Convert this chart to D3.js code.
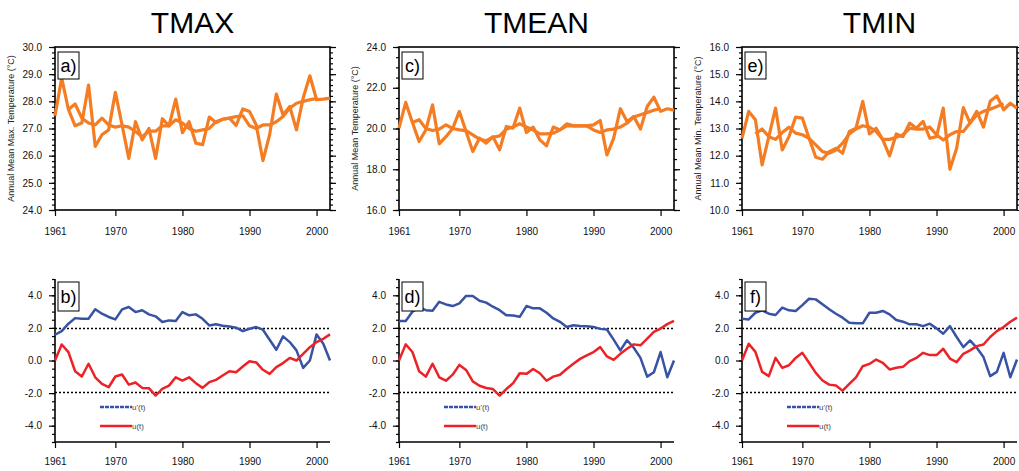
<!DOCTYPE html>
<html><head><meta charset="utf-8">
<script src="https://cdn.jsdelivr.net/npm/d3@7"></script>
<style>
body{margin:0;background:#fff}
text{font-family:"Liberation Sans",Arial,Helvetica,sans-serif}
</style>
</head><body>
<svg id="chart" width="1019" height="471"></svg>
<script>
// ---------------- DATA ----------------
const years = [1961,1962,1963,1964,1965,1966,1967,1968,1969,1970,1971,1972,1973,1974,1975,1976,1977,1978,1979,1980,
  1981,1982,1983,1984,1985,1986,1987,1988,1989,1990,1991,1992,1993,1994,1995,1996,1997,1998,1999,2000,2001,2002];
const smoothYears = [1963,1964,1965,1966,1967,1968,1969,1970,1971,1972,1973,1974,1975,1976,1977,1978,1979,1980,
  1981,1982,1983,1984,1985,1986,1987,1988,1989,1990,1991,1992,1993,1994,1995,1996,1997,1998,1999,2000];
const yearTicks = [1961,1970,1980,1990,2000];
const titles = ["TMAX","TMEAN","TMIN"];
const yTitles = ["Annual Mean Max. Temperature (\u00B0C)","Annual Mean Temperature (\u00B0C)","Annual Mean Min. Temperature (\u00B0C)"];
const topLetters = ["a)","c)","e)"];
const botLetters = ["b)","d)","f)"];
const legendLabels = ["u'(t)","u(t)"];

const tmaxRaw = [27.47,28.86,27.7,27.1,27.2,28.6,26.34,26.77,26.95,28.33,27.13,25.9,27.25,26.58,27.0,25.9,27.36,27.1,28.08,26.85,
  27.25,26.46,26.4,27.42,27.22,27.34,27.38,27.11,27.72,27.63,27.13,25.82,26.77,28.27,27.5,27.81,26.95,28.12,28.94,28.06,28.08,28.12];
const tmaxSmooth = [27.7,27.9,27.38,27.2,27.13,27.38,27.13,27.05,27.1,27.05,26.89,26.7,26.9,26.9,27.1,27.1,27.32,27.2,27.0,26.9,
  26.95,27.0,27.25,27.34,27.38,27.44,27.47,27.1,27.0,27.13,27.13,27.25,27.44,27.75,27.93,28.0,28.06,28.1];
const tmeanRaw = [20.02,21.28,20.3,19.36,19.93,21.16,19.25,19.6,20.0,20.84,19.85,18.87,19.52,19.28,19.6,18.95,20.1,20.02,21.0,19.8,
  20.07,19.44,19.15,20.07,19.93,20.23,20.13,20.13,20.13,20.18,20.39,18.7,19.52,20.97,20.34,20.59,19.97,21.08,21.54,20.84,20.97,20.9];
const tmeanSmooth = [20.3,20.43,20.0,19.9,19.97,20.18,20.0,19.93,19.9,19.69,19.48,19.4,19.57,19.64,19.97,20.07,20.23,20.07,19.93,19.74,
  19.74,19.77,19.93,20.13,20.13,20.13,20.13,19.93,19.8,19.93,19.97,20.07,20.26,20.56,20.67,20.79,20.9,20.97];
const tminRaw = [12.64,13.63,13.32,11.66,12.7,13.75,12.21,12.7,13.42,13.38,12.64,11.94,11.87,12.15,12.27,12.09,12.89,13.01,14.0,12.8,
  13.01,12.58,11.99,12.8,12.7,13.2,13.01,13.26,12.64,12.7,13.75,11.5,12.27,13.77,13.2,13.63,13.05,14.0,14.2,13.69,13.93,13.75];
const tminSmooth = [12.8,12.98,12.7,12.6,12.85,13.05,12.83,12.77,12.64,12.4,12.15,12.09,12.21,12.46,12.8,12.98,13.1,13.05,12.89,12.6,
  12.6,12.68,12.77,13.01,12.98,12.98,13.05,12.77,12.58,12.77,12.89,12.89,13.2,13.5,13.63,13.71,13.81,13.91];

const tmaxUb = [1.58,1.8,2.26,2.6,2.56,2.56,3.14,2.87,2.67,2.52,3.14,3.28,2.97,3.08,2.83,2.71,2.36,2.46,2.42,2.97,
  2.77,2.83,2.56,2.15,2.22,2.13,2.09,2.01,1.8,1.95,2.05,1.89,1.27,0.66,1.48,1.13,0.62,-0.45,0.0,1.6,1.03,0.0];
const tmaxUf = [0,0.98,0.51,-0.66,-0.98,-0.2,-1.03,-1.44,-1.64,-0.98,-0.86,-1.48,-1.35,-1.68,-1.7,-2.15,-1.74,-1.54,-1.03,-1.23,
  -1.03,-1.39,-1.68,-1.33,-1.19,-0.92,-0.66,-0.72,-0.37,-0.04,-0.12,-0.57,-0.82,-0.41,-0.16,0.16,0.0,0.41,0.82,1.13,1.33,1.6];
const tmeanUb = [2.43,2.43,2.99,3.26,3.09,3.05,3.6,3.44,3.34,3.5,3.96,3.96,3.67,3.55,3.3,3.09,2.78,2.76,2.68,3.34,
  3.2,3.2,2.93,2.58,2.37,2.06,2.16,2.12,2.1,2.06,1.94,1.9,1.28,0.62,1.24,0.78,0.16,-0.99,-0.72,0.52,-1.03,0.0];
const tmeanUf = [0,0.99,0.52,-0.66,-0.99,-0.2,-1.03,-1.24,-0.87,-0.27,-0.58,-1.28,-1.55,-1.69,-1.75,-2.16,-1.75,-1.4,-0.78,-0.82,
  -0.52,-0.78,-1.24,-0.99,-0.87,-0.52,-0.2,0.1,0.31,0.52,0.82,0.25,0.04,0.41,0.72,0.99,0.93,1.34,1.75,1.96,2.23,2.43];
const tminUb = [2.56,2.52,2.93,3.08,2.87,2.79,3.24,3.08,3.04,3.4,3.79,3.75,3.45,3.14,2.87,2.63,2.32,2.28,2.28,2.93,
  2.93,3.04,2.83,2.48,2.38,2.22,2.22,2.11,2.26,1.97,1.64,2.11,1.44,0.82,1.23,0.78,0.21,-0.96,-0.7,0.47,-1.03,0.06];
const tminUf = [0,1.03,0.53,-0.7,-0.96,0.16,-0.45,-0.29,0.16,0.47,-0.14,-0.76,-1.23,-1.48,-1.54,-1.85,-1.44,-1.03,-0.35,-0.21,
  0.06,-0.14,-0.55,-0.45,-0.39,-0.04,0.16,0.47,0.33,0.33,0.72,0.12,-0.1,0.41,0.62,0.88,0.98,1.44,1.8,2.05,2.38,2.63];

const topDomains = [[24,30],[16,24],[10,16]];
const topMajor = [[24,25,26,27,28,29,30],[16,18,20,22,24],[10,11,12,13,14,15,16]];
const topMinorStep = [0.2,0.5,0.2];
const botMajor = [-4,-2,0,2,4];
const critical = [1.96,-1.96];

const rawSeries = [tmaxRaw,tmeanRaw,tminRaw];
const smoothSeries = [tmaxSmooth,tmeanSmooth,tminSmooth];
const ubSeries = [tmaxUb,tmeanUb,tminUb];
const ufSeries = [tmaxUf,tmeanUf,tminUf];

// ---------------- LAYOUT ----------------
const svg = d3.select("#chart");
const lefts = [55,399,742];
const PW = 275;
const topY = [47,210], botY = [279,442];
const ORANGE = "#F47D23", BLUE = "#3852A4", RED = "#EC2227";
const fmt = d => d.toFixed(1);

function styleAxis(g){
  g.select(".domain").remove();
  g.selectAll("line").attr("stroke","#000").attr("stroke-width",1.2);
  g.selectAll("text").attr("fill","#111").style("font-size","10px");
}

for (let i = 0; i < 3; i++) {
  const L = lefts[i], R = L + PW;
  const x = d3.scaleLinear().domain([1961,2002]).range([L,R]);

  // title
  svg.append("text").attr("x",(L+R)/2).attr("y",33).attr("text-anchor","middle")
    .style("font-size","30px").attr("fill","#000").text(titles[i]);

  // ---------- top panel ----------
  const yt = d3.scaleLinear().domain(topDomains[i]).range([topY[1],topY[0]]);
  const minorT = d3.range(topDomains[i][0], topDomains[i][1]+1e-9, topMinorStep[i]);
  const gl = svg.append("g").attr("transform",`translate(${L},0)`);
  gl.call(d3.axisLeft(yt).tickValues(minorT).tickSize(3).tickFormat("")); styleAxis(gl);
  const gl2 = svg.append("g").attr("transform",`translate(${L},0)`);
  gl2.call(d3.axisLeft(yt).tickValues(topMajor[i]).tickSize(6).tickPadding(7).tickFormat(fmt)); styleAxis(gl2);
  const gr = svg.append("g").attr("transform",`translate(${R},0)`);
  gr.call(d3.axisRight(yt).tickValues(minorT).tickSize(3).tickFormat("")); styleAxis(gr);
  const gr2 = svg.append("g").attr("transform",`translate(${R},0)`);
  gr2.call(d3.axisRight(yt).tickValues(topMajor[i]).tickSize(6).tickFormat("")); styleAxis(gr2);
  const gb = svg.append("g").attr("transform",`translate(0,${topY[1]})`);
  gb.call(d3.axisBottom(x).tickValues(yearTicks).tickSize(6).tickPadding(12).tickFormat(d3.format("d"))); styleAxis(gb);

  svg.append("rect").attr("x",L).attr("y",topY[0]).attr("width",PW).attr("height",topY[1]-topY[0])
    .attr("fill","none").attr("stroke","#000").attr("stroke-width",1.6);

  svg.append("text").attr("transform",`translate(${L-41},${(topY[0]+topY[1])/2}) rotate(-90)`)
    .attr("text-anchor","middle").style("font-size","9px").attr("fill","#222").text(yTitles[i]);

  const line = d3.line().x(d=>x(d[0])).y(d=>yt(d[1]));
  svg.append("path").datum(years.map((yr,k)=>[yr,rawSeries[i][k]])).attr("d",line)
    .attr("fill","none").attr("stroke",ORANGE).attr("stroke-width",3.2).attr("stroke-linejoin","round");
  svg.append("path").datum(smoothYears.map((yr,k)=>[yr,smoothSeries[i][k]])).attr("d",line)
    .attr("fill","none").attr("stroke",ORANGE).attr("stroke-width",3.2).attr("stroke-linejoin","round");

  svg.append("rect").attr("x",L+3).attr("y",52).attr("width",21).attr("height",27)
    .attr("fill","#fff").attr("stroke","#000").attr("stroke-width",1);
  svg.append("text").attr("x",L+13.5).attr("y",72).attr("text-anchor","middle")
    .style("font-size","18px").attr("fill","#000").text(topLetters[i]);

  // ---------- bottom panel ----------
  const yb = d3.scaleLinear().domain([-5,5]).range([botY[1],botY[0]]);
  const minorB = d3.range(-5,5+1e-9,0.5);
  const bl = svg.append("g").attr("transform",`translate(${L},0)`);
  bl.call(d3.axisLeft(yb).tickValues(minorB).tickSize(3).tickFormat("")); styleAxis(bl);
  const bl2 = svg.append("g").attr("transform",`translate(${L},0)`);
  bl2.call(d3.axisLeft(yb).tickValues(botMajor).tickSize(6).tickPadding(7).tickFormat(fmt)); styleAxis(bl2);
  const bb = svg.append("g").attr("transform",`translate(0,${botY[1]})`);
  bb.call(d3.axisBottom(x).tickValues(yearTicks).tickSize(6).tickPadding(10).tickFormat(d3.format("d"))); styleAxis(bb);
  svg.append("line").attr("x1",L).attr("x2",L).attr("y1",botY[0]).attr("y2",botY[1]).attr("stroke","#000").attr("stroke-width",1.6);
  svg.append("line").attr("x1",L).attr("x2",R).attr("y1",botY[1]).attr("y2",botY[1]).attr("stroke","#000").attr("stroke-width",1.6);

  critical.forEach(c => {
    svg.append("line").attr("x1",L).attr("x2",R).attr("y1",yb(c)).attr("y2",yb(c))
      .attr("stroke","#000").attr("stroke-width",1.4).attr("stroke-dasharray","2,2");
  });

  const lb = d3.line().x(d=>x(d[0])).y(d=>yb(d[1]));
  svg.append("path").datum(years.map((yr,k)=>[yr,ubSeries[i][k]])).attr("d",lb)
    .attr("fill","none").attr("stroke",BLUE).attr("stroke-width",2.5).attr("stroke-linejoin","round");
  svg.append("path").datum(years.map((yr,k)=>[yr,ufSeries[i][k]])).attr("d",lb)
    .attr("fill","none").attr("stroke",RED).attr("stroke-width",2.5).attr("stroke-linejoin","round");

  svg.append("rect").attr("x",L+3).attr("y",282).attr("width",21).attr("height",29)
    .attr("fill","#fff").attr("stroke","#000").attr("stroke-width",1);
  svg.append("text").attr("x",L+13.5).attr("y",303).attr("text-anchor","middle")
    .style("font-size","18px").attr("fill","#000").text(botLetters[i]);

  // legend
  const lx = L + 45;
  svg.append("line").attr("x1",lx).attr("x2",lx+32).attr("y1",407).attr("y2",407)
    .attr("stroke",BLUE).attr("stroke-width",2.5).attr("stroke-dasharray","4,1");
  svg.append("text").attr("x",lx+32).attr("y",410).style("font-size","8px").attr("fill","#444").text(legendLabels[0]);
  svg.append("line").attr("x1",lx).attr("x2",lx+32).attr("y1",426).attr("y2",426)
    .attr("stroke",RED).attr("stroke-width",2.5);
  svg.append("text").attr("x",lx+32).attr("y",429).style("font-size","8px").attr("fill","#444").text(legendLabels[1]);
}
</script>
</body></html>
